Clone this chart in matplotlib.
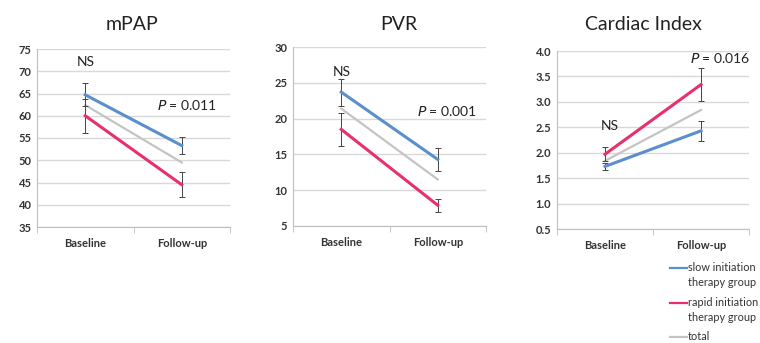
import matplotlib
matplotlib.use("Agg")
import matplotlib.pyplot as plt
from matplotlib.lines import Line2D

plt.rcParams['font.family'] = ['Lato', 'DejaVu Sans']

categories = ["Baseline", "Follow-up"]
titles = ["mPAP", "PVR", "Cardiac Index"]

# mPAP
mpap_slow = [64.7, 53.3]
mpap_slow_err = [2.6, 1.9]
mpap_rapid = [60.0, 44.5]
mpap_rapid_err = [3.8, 2.8]
mpap_total = [62.4, 49.5]

# PVR
pvr_slow = [23.7, 14.3]
pvr_slow_err = [1.9, 1.6]
pvr_rapid = [18.5, 7.9]
pvr_rapid_err = [2.3, 0.9]
pvr_total = [21.4, 11.5]

# Cardiac Index
ci_slow = [1.73, 2.43]
ci_slow_err = [0.07, 0.19]
ci_rapid = [1.97, 3.34]
ci_rapid_err = [0.14, 0.33]
ci_total = [1.84, 2.84]

yticks_list = [
    [35, 40, 45, 50, 55, 60, 65, 70, 75],
    [5, 10, 15, 20, 25, 30],
    [0.5, 1.0, 1.5, 2.0, 2.5, 3.0, 3.5, 4.0],
]
ytick_fmt = ["{:.0f}", "{:.0f}", "{:.1f}"]

ns_pos = [(0.0, 72.0), (0.0, 26.5), (0.05, 2.52)]
p_text = ["0.011", "0.001", "0.016"]
p_pos = [(1.05, 62.5), (1.1, 21.0), (1.2, 3.87)]

legend_labels = ["slow initiation\ntherapy group", "rapid initiation\ntherapy group", "total"]

BLUE = "#5B8FCB"
PINK = "#E8306C"
GRAY = "#C4C4C4"
GRID = "#D9D9D9"
W, H = 760, 343

fig = plt.figure(figsize=(7.6, 3.43), dpi=100)
axes_rects = [
    [37/W, 1-227/H, 193/W, 178/H],
    [293/W, 1-226/H, 193/W, 179/H],
    [557/W, 1-229/H, 192/W, 178/H],
]
title_x = [132/W, 399/W, 643/W]

data = [
    (mpap_slow, mpap_slow_err, mpap_rapid, mpap_rapid_err, mpap_total),
    (pvr_slow, pvr_slow_err, pvr_rapid, pvr_rapid_err, pvr_total),
    (ci_slow, ci_slow_err, ci_rapid, ci_rapid_err, ci_total),
]

x = [0, 1]
for i, rect in enumerate(axes_rects):
    ax = fig.add_axes(rect)
    slow, slow_err, rapid, rapid_err, total = data[i]
    yt = yticks_list[i]
    ax.set_ylim(yt[0], yt[-1])
    ax.set_xlim(-0.5, 1.5)
    ax.set_yticks(yt)
    ax.set_yticklabels([ytick_fmt[i].format(v) for v in yt], fontsize=8, fontweight='bold', color='#333333')
    ax.yaxis.grid(True, color=GRID, linewidth=1.0)
    ax.set_axisbelow(True)
    ax.tick_params(axis='y', length=0, pad=4)
    ax.set_xticks([0, 1])
    ax.set_xticklabels(categories, fontsize=8, fontweight='bold', color='#333333')
    ax.tick_params(axis='x', length=0, pad=8)
    ax.set_xticks([-0.5, 0.5, 1.5], minor=True)
    ax.tick_params(axis='x', which='minor', length=4, color='#BFBFBF', direction='out')
    for s in ['top', 'right']:
        ax.spines[s].set_visible(False)
    ax.spines['left'].set_color('#BFBFBF')
    ax.spines['bottom'].set_color('#BFBFBF')

    ax.plot(x, total, color=GRAY, linewidth=1.6, zorder=3)
    ax.errorbar(x, slow, yerr=slow_err, color=BLUE, linewidth=2.2, ecolor='#444444',
                elinewidth=0.7, capsize=2, capthick=0.7, zorder=4)
    ax.errorbar(x, rapid, yerr=rapid_err, color=PINK, linewidth=2.2, ecolor='#444444',
                elinewidth=0.7, capsize=2, capthick=0.7, zorder=4)

    ax.text(ns_pos[i][0], ns_pos[i][1], "NS", fontsize=10, ha='center', va='center', color='#222222')
    ax.text(p_pos[i][0], p_pos[i][1], "$P$ = " + p_text[i], fontsize=10, ha='center', va='center', color='#222222')

    fig.text(title_x[i], 1-24/H, titles[i], fontsize=14, ha='center', va='center', color='#222222')

# legend drawn manually (handle aligned with first text line, as in the reference)
legend_colors = [BLUE, PINK, GRAY]
legend_rows = [268, 303, 337]
for lab, col, yrow in zip(legend_labels, legend_colors, legend_rows):
    yf = 1 - yrow / H
    fig.add_artist(Line2D([670/W, 687/W], [yf, yf], color=col, linewidth=1.6,
                          transform=fig.transFigure))
    fig.text(688/W, 1 - (yrow - 6) / H, lab, fontsize=7.8, ha='left', va='top',
             color='#333333', linespacing=1.45)

fig.savefig("out.png", dpi=100)
